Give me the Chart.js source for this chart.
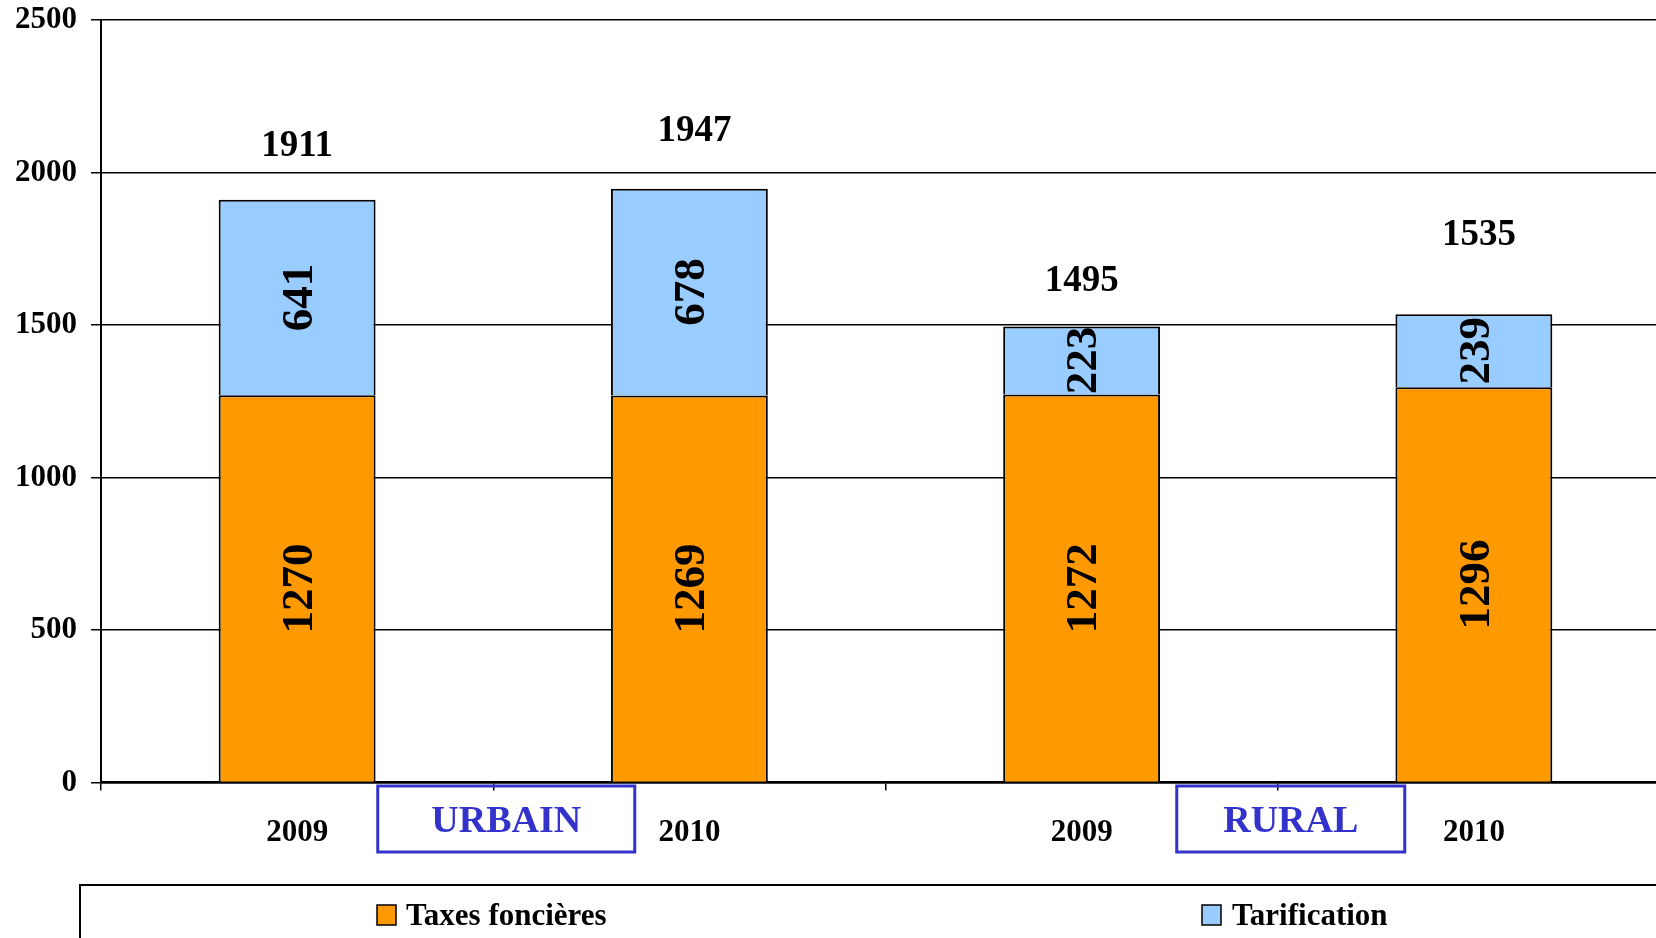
<!DOCTYPE html>
<html lang="fr">
<head>
  <meta charset="UTF-8">
  <title>Taxes foncières et tarification</title>
  <script src="https://cdn.jsdelivr.net/npm/chart.js"></script>
  <style>
    html, body { margin: 0; padding: 0; background: #fff; overflow: hidden; }
    #wrap { width: 1680px; height: 938px; position: relative; }
  </style>
</head>
<body>
  <div id="wrap"><canvas id="chart"></canvas></div>

  <script>
    // données
    const years = ['2009', '2010', '2009', '2010'];
    const groups = ['URBAIN', 'RURAL'];
    const taxes = [1270, 1269, 1272, 1296];
    const tarif = [641, 678, 223, 239];
    const totals = [1911, 1947, 1495, 1535];
    const yTicks = [0, 500, 1000, 1500, 2000, 2500];

    // décalage vertical (px) des totaux au-dessus des barres, comme dans l'original
    const totalLift = [53, 57, 45, 79];
    const boxWidths = [257, 228];

    const serif = '"Liberation Serif", "Times New Roman", serif';
    const blue = '#3333cc';

    const labelsPlugin = {
      id: 'labels',
      afterDraw(chart) {
        const ctx = chart.ctx;
        const x = chart.scales.x;
        const m0 = chart.getDatasetMeta(0);
        const m1 = chart.getDatasetMeta(1);
        ctx.save();

        // valeurs verticales dans les segments
        ctx.fillStyle = '#000';
        ctx.font = 'bold 45px ' + serif;
        ctx.textAlign = 'center';
        ctx.textBaseline = 'middle';
        [[m0, taxes], [m1, tarif]].forEach(([meta, vals]) => {
          meta.data.forEach((bar, i) => {
            const cy = (bar.y + bar.base) / 2;
            ctx.save();
            ctx.translate(bar.x + 3, cy);
            ctx.rotate(-Math.PI / 2);
            ctx.fillText(String(vals[i]), 0, 0);
            ctx.restore();
          });
        });

        // totaux au-dessus
        ctx.font = 'bold 37px ' + serif;
        m1.data.forEach((bar, i) => {
          const dx = (i % 2 === 1) ? 5 : 0;
          ctx.fillText(String(totals[i]), bar.x + dx, bar.y - totalLift[i]);
        });

        // cadres URBAIN / RURAL
        ctx.font = 'bold 38px ' + serif;
        groups.forEach((g, k) => {
          const cx = (x.getPixelForValue(2 * k) + x.getPixelForValue(2 * k + 1)) / 2 + 13;
          const w = boxWidths[k];
          const top = 786, h = 66;
          ctx.strokeStyle = blue;
          ctx.lineWidth = 3;
          ctx.strokeRect(cx - w / 2, top, w, h);
          ctx.fillStyle = blue;
          ctx.fillText(g, cx, top + h / 2 + 3);
        });

        // légende en bas
        ctx.strokeStyle = '#000';
        ctx.lineWidth = 2;
        ctx.strokeRect(80, 885, 1700, 100);
        ctx.font = 'bold 31px ' + serif;
        ctx.textAlign = 'left';
        const items = [[377, 406], [1202, 1232]];
        chart.data.datasets.forEach((ds, i) => {
          const [bx, tx] = items[i];
          ctx.fillStyle = ds.backgroundColor;
          ctx.fillRect(bx, 905, 19, 20);
          ctx.strokeStyle = '#000';
          ctx.lineWidth = 1.5;
          ctx.strokeRect(bx, 905, 19, 20);
          ctx.fillStyle = '#000';
          ctx.fillText(ds.label, tx, 917);
        });
        ctx.restore();
      }
    };

    new Chart(document.getElementById('chart'), {
      type: 'bar',
      data: {
        labels: years,
        datasets: [
          { label: 'Taxes foncières', data: taxes, backgroundColor: '#ff9900', borderColor: '#000', borderWidth: 2 },
          { label: 'Tarification', data: tarif, backgroundColor: '#99ccff', borderColor: '#000', borderWidth: 2 }
        ]
      },
      options: {
        responsive: true,
        maintainAspectRatio: false,
        animation: false,
        barPercentage: 0.4,
        categoryPercentage: 1,
        layout: { padding: { top: 20, right: 10, bottom: 0, left: 0 } },
        plugins: { legend: { display: false }, tooltip: { enabled: false } },
        scales: {
          x: {
            stacked: true,
            afterFit(s) { s.height = 155.5; s.paddingLeft = 0; s.paddingRight = 0; },
            border: { color: '#000', width: 2.5 },
            grid: { offset: true, drawOnChartArea: false, drawTicks: true, tickLength: 8, color: '#000', lineWidth: 1.5 },
            ticks: { color: '#000', font: { family: serif, size: 31, weight: 'bold' }, padding: 24, maxRotation: 0 }
          },
          y: {
            stacked: true,
            min: 0,
            max: 2500,
            afterFit(s) { s.width = 101; s.paddingTop = 0; s.paddingBottom = 0; },
            afterBuildTicks(s) { s.ticks = yTicks.map(v => ({ value: v })); },
            border: { color: '#000', width: 2 },
            grid: { color: '#000', lineWidth: 1.5, tickLength: 10 },
            ticks: { color: '#000', font: { family: serif, size: 31, weight: 'bold' }, padding: 14, callback: v => String(v) }
          }
        }
      },
      plugins: [labelsPlugin]
    });
  </script>
</body>
</html>
